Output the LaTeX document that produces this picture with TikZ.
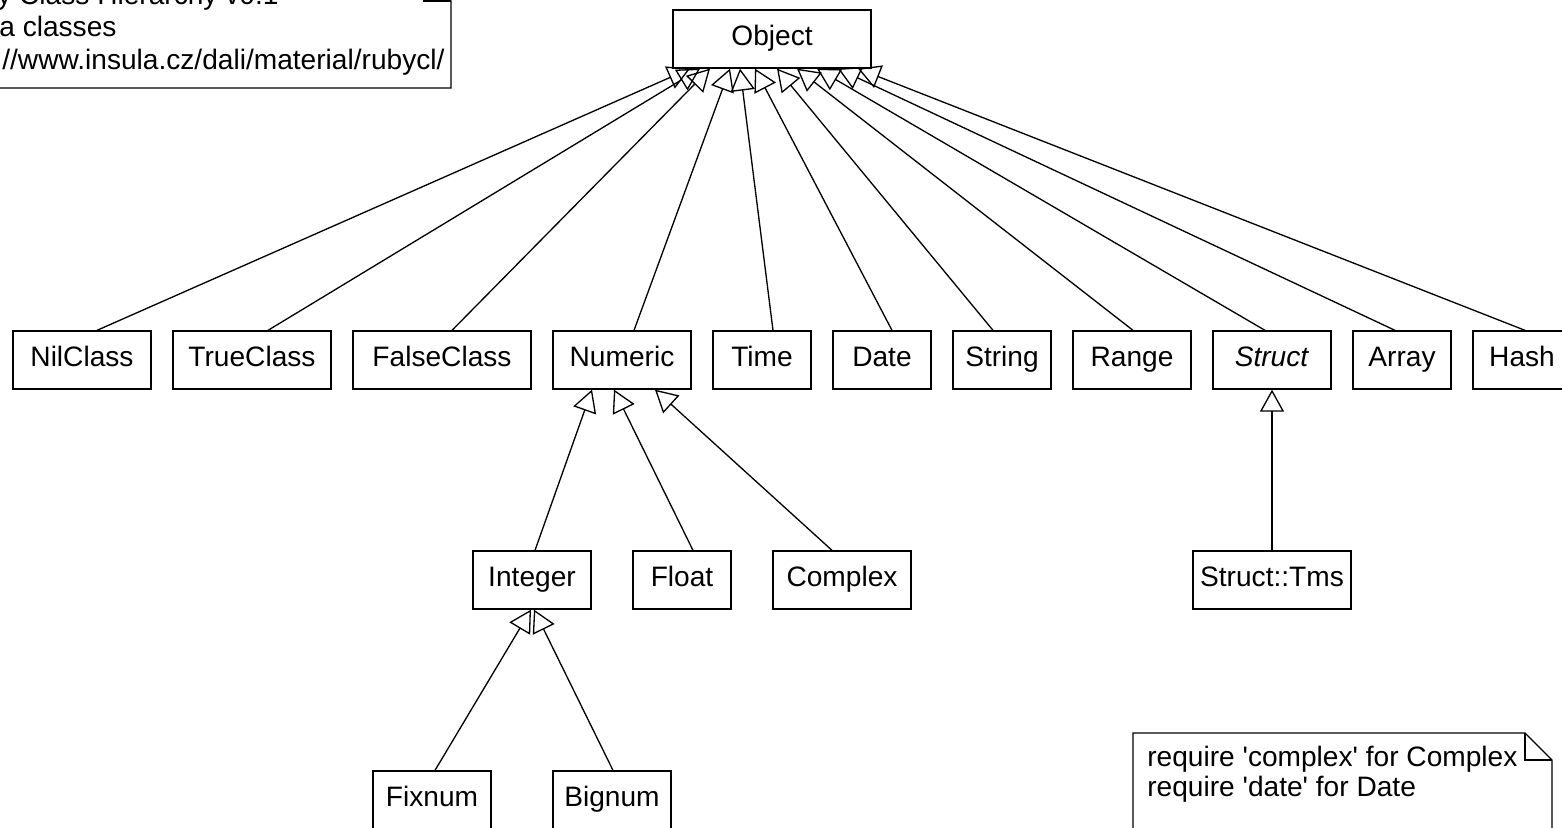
\documentclass[tikz,border=0pt]{standalone}
\usepackage{fontspec}
\setmainfont{Liberation Sans}[Ligatures=TeXOff]
\usetikzlibrary{arrows.meta}

\tikzset{
    klasse/.style={draw, line width=0.75pt, minimum height=1.16cm, inner sep=0pt,
        text height=11.5pt, text depth=4.6pt, font=\fontsize{16}{18}\selectfont},
    erbt/.style={line width=0.75pt, -{Triangle[open, length=0.44cm, width=0.48cm]}},
    notiz/.style={draw, line width=0.75pt, line join=miter},
    notiztext/.style={anchor=base west, inner sep=0pt, font=\fontsize{16}{18}\selectfont}
}

\begin{document}
\begin{tikzpicture}[x=0.02cm, y=-0.02cm]
    \fill[white] (0,0) rectangle (1562,828);
    \useasboundingbox (0,0) rectangle (1562,828);

    %Oberklasse
    \node[klasse, minimum width=3.96cm] (obj) at (772,39) {Object};

    %Unterklassen von Object
    \foreach \n/\t/\x/\w in {nil/NilClass/82/138, true/TrueClass/252/158, false/FalseClass/442/178,
        num/Numeric/622/138, time/Time/762/98, date/Date/882/98, str/String/1002/98,
        range/Range/1132/118, struct/\textit{Struct}/1272/118, arr/Array/1402/98, hash/Hash/1522/98} {
        \node[klasse, minimum width=\w*0.02cm] (\n) at (\x,360) {\t};
    }
    %Unterklassen von Numeric und Struct
    \node[klasse, minimum width=2.36cm] (int) at (532,580) {Integer};
    \node[klasse, minimum width=1.96cm] (float) at (682,580) {Float};
    \node[klasse, minimum width=2.76cm] (cplx) at (842,580) {Complex};
    \node[klasse, minimum width=3.16cm] (tms) at (1272,580) {Struct::Tms};
    %Unterklassen von Integer
    \node[klasse, minimum width=2.36cm] (fix) at (432,800) {Fixnum};
    \node[klasse, minimum width=2.36cm] (big) at (612,800) {Bignum};

    %Vererbung
    \foreach \n/\a/\b in {nil/15/-82, true/16/-72, false/10/-62, num/12/-42, time/11/-32,
        date/10/-17, str/-9/5, range/1/25, struct/-7/45, arr/-7/66, hash/3/86} {
        \draw[erbt] ([xshift=\a*0.02cm]\n.north) -- ([xshift=\b*0.02cm]obj.south);
    }
    \foreach \n/\a/\b in {int/3/-30, float/11/-8, cplx/-10/33} {
        \draw[erbt] ([xshift=\a*0.02cm]\n.north) -- ([xshift=\b*0.02cm]num.south);
    }
    \draw[erbt] ([xshift=0.06cm]fix.north) -- ([xshift=-0.02cm]int.south);
    \draw[erbt] ([xshift=0.02cm]big.north) -- ([xshift=0.04cm]int.south);
    \draw[erbt] (tms.north) -- (struct.south);

    %Notizen
    \draw[notiz] (-5,-26) -- (424,-26) -- (451,1) -- (451,88) -- (-5,88) -- cycle;
    \draw[notiz] (424,-26) -- (424,1) -- (451,1);
    \node[notiztext] (n1) at (-3,5) {y Class Hierarchy v0.1};
    \node[notiztext] (n2) at (-1,37) {a classes};
    \node[notiztext] (n3) at (2,70) {//www.insula.cz/dali/material/rubycl/};

    \draw[notiz] (1133,733) -- (1525,733) -- (1552,760) -- (1552,840) -- (1133,840) -- cycle;
    \draw[notiz] (1525,733) -- (1525,760) -- (1552,760);
    \node[notiztext] (n4) at (1147,766) {require 'complex' for Complex};
    \node[notiztext] (n5) at (1147,796) {require 'date' for Date};
\end{tikzpicture}
\end{document}
